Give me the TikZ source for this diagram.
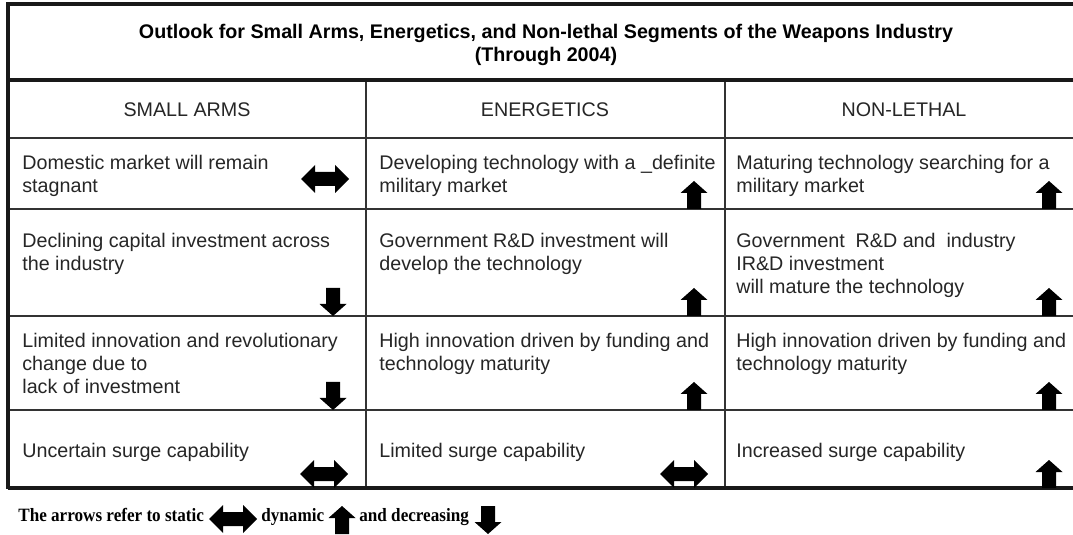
\documentclass[tikz,border=0pt]{standalone}
\usepackage{fontspec}
\setmainfont{Liberation Sans}
\newfontfamily\legendfont[FakeStretch=0.91]{Liberation Serif}
\newcommand\cellfont{\fontsize{9.85}{11.5}\selectfont}
\begin{document}
\begin{tikzpicture}[x=0.5pt,y=-0.5pt,
  frame/.style={line width=1.6pt,draw=black!90},
  grid/.style={line width=0.65pt,draw=black!80},
  cell/.style={anchor=north west,align=left,inner sep=0pt,font=\cellfont,text=black!85},
  head/.style={anchor=base,inner sep=0pt,font=\cellfont,text=black!85},
  legend/.style={anchor=base west,inner sep=0pt,font=\legendfont\bfseries\fontsize{9.4}{11}\selectfont,text=black},
  uparrow/.pic={\fill[black] (-7,0) -- (7,0) -- (7,-16) -- (13.5,-16) -- (0,-28) -- (-13.5,-16) -- (-7,-16) -- cycle;},
  downarrow/.pic={\fill[black] (0,0) -- (13.5,-12) -- (7,-12) -- (7,-28) -- (-7,-28) -- (-7,-12) -- (-13.5,-12) -- cycle;},
  dblarrow/.pic={\fill[black] (-24,0) -- (-10,-14) -- (-10,-7) -- (10,-7) -- (10,-14) -- (24,0) -- (10,14) -- (10,7) -- (-10,7) -- (-10,14) -- cycle;}
]
\useasboundingbox (0,0) rectangle (1073,535);
\fill[white] (0,0) rectangle (1073,535);

% grid lines
\draw[grid] (8,138) -- (1073,138);
\draw[grid] (8,209) -- (1073,209);
\draw[grid] (8,316) -- (1073,316);
\draw[grid] (8,410) -- (1073,410);
\draw[grid] (366,80) -- (366,488);
\draw[grid] (725,80) -- (725,488);
% frame
\draw[frame] (1073,4) -- (8,4) -- (8,489);
\draw[frame] (8,80) -- (1073,80);
\draw[frame] (8,488) -- (1073,488);

% title
\node[anchor=north,align=center,inner sep=0pt,font=\cellfont\bfseries,text=black] (title) at (546,22)
  {\strut Outlook for Small Arms, Energetics, and Non-lethal Segments of the Weapons Industry\\(Through 2004)};

% headers
\node[head] (h1) at (187,117) {SMALL ARMS};
\node[head] (h2) at (545,117) {ENERGETICS};
\node[head] (h3) at (904,117) {NON-LETHAL};

% row 1
\node[cell] (a1) at (22,153) {\strut Domestic market will remain\\stagnant};
\node[cell] (b1) at (379,153) {\strut Developing technology with a \_definite\\military market};
\node[cell] (c1) at (736,153) {\strut Maturing technology searching for a\\military market};
% row 2
\node[cell] (a2) at (22,231) {\strut Declining capital investment across\\the industry};
\node[cell] (b2) at (379,231) {\strut Government R\&D investment will\\develop the technology};
\node[cell] (c2) at (736,231) {\strut Government\ \ R\&D and\ \ industry\\IR\&D investment\\will mature the technology};
% row 3
\node[cell] (a3) at (22,331) {\strut Limited innovation and revolutionary\\change due to\\lack of investment};
\node[cell] (b3) at (379,331) {\strut High innovation driven by funding and\\technology maturity};
\node[cell] (c3) at (736,331) {\strut High innovation driven by funding and\\technology maturity};
% row 4
\node[cell] (a4) at (22,441) {\strut Uncertain surge capability};
\node[cell] (b4) at (379,441) {\strut Limited surge capability};
\node[cell] (c4) at (736,441) {\strut Increased surge capability};

% arrows in cells
\pic at (325,179) {dblarrow};
\pic at (694,209) {uparrow};
\pic at (1049,209) {uparrow};
\pic at (333,316) {downarrow};
\pic at (694,316) {uparrow};
\pic at (1049,316) {uparrow};
\pic at (333,410) {downarrow};
\pic at (694,410) {uparrow};
\pic at (1049,410) {uparrow};
\pic at (324,474) {dblarrow};
\pic at (684,474) {dblarrow};
\pic at (1049,488) {uparrow};

% legend
\node[legend] (l1) at (18,522) {The arrows refer to static};
\pic at (233,519) {dblarrow};
\node[legend] (l2) at (261,522) {dynamic};
\pic at (342,534) {uparrow};
\node[legend] (l3) at (359,522) {and decreasing};
\pic at (488,534) {downarrow};
\end{tikzpicture}
\end{document}
